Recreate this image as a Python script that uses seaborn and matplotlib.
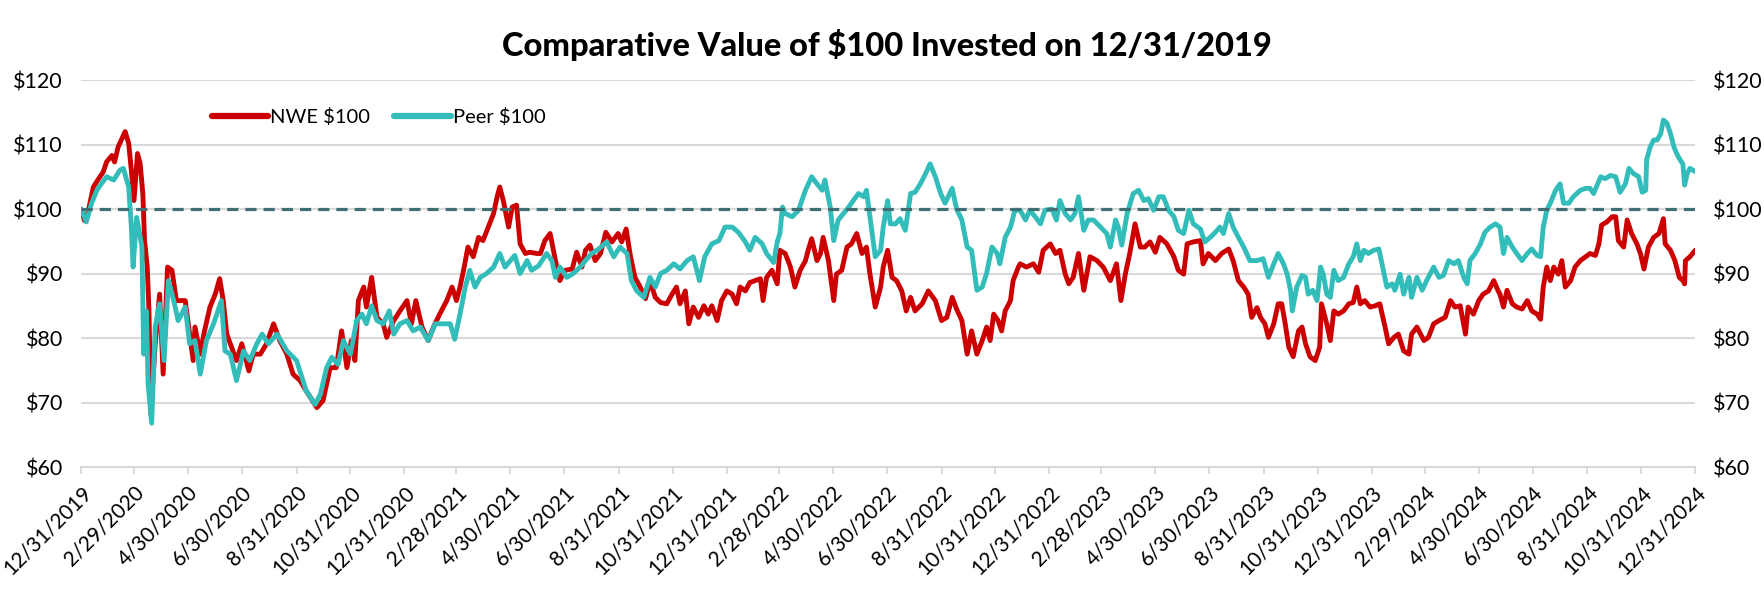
import pandas as pd
import matplotlib
matplotlib.use("Agg")
import matplotlib.pyplot as plt
import matplotlib.ticker as mticker
import seaborn as sns

start_date = "2019-12-31"

# days after 12/31/2019 and value of $100 invested
nwe_days = [0, 4, 8, 14, 20, 25, 29, 35, 38, 42, 50, 54, 57, 60, 64, 67, 70, 72, 75, 77,
            79, 84, 89, 93, 98, 103, 108, 118, 122, 127, 129, 135, 139, 146, 152, 157, 161, 165, 169, 176,
            182, 190, 195, 203, 210, 218, 225, 233, 240, 248, 255, 267, 274, 282, 289, 295, 301, 306, 310, 314,
            320, 323, 329, 335, 342, 346, 354, 361, 369, 374, 379, 386, 393, 399, 406, 414, 420, 425, 429, 433,
            438, 444, 450, 455, 461, 467, 471, 474, 478, 484, 488, 493, 497, 503, 508, 516, 520, 525, 531, 537,
            542, 548, 556, 561, 567, 571, 576, 582, 588, 594, 601, 608, 612, 617, 622, 627, 633, 639, 644, 650,
            656, 663, 669, 674, 678, 684, 688, 693, 699, 705, 710, 714, 720, 725, 731, 737, 742, 746, 752, 757,
            763, 769, 772, 776, 782, 788, 791, 797, 803, 808, 814, 820, 823, 827, 833, 837, 840, 846, 852, 855,
            861, 867, 872, 878, 884, 889, 893, 899, 905, 908, 913, 918, 923, 929, 934, 939, 944, 952, 959, 967,
            974, 980, 986, 991, 997, 1003, 1008, 1014, 1020, 1025, 1029, 1033, 1038, 1042, 1046, 1052, 1055, 1061, 1063, 1070,
            1078, 1084, 1089, 1097, 1103, 1108, 1114, 1118, 1123, 1129, 1135, 1142, 1150, 1157, 1165, 1172, 1177, 1182, 1187, 1193,
            1199, 1204, 1210, 1216, 1221, 1229, 1237, 1242, 1248, 1252, 1259, 1267, 1270, 1276, 1284, 1291, 1299, 1304, 1310, 1316,
            1321, 1325, 1331, 1335, 1340, 1344, 1350, 1355, 1359, 1363, 1367, 1372, 1378, 1382, 1386, 1391, 1397, 1402, 1404, 1410,
            1414, 1418, 1423, 1429, 1435, 1440, 1444, 1448, 1453, 1459, 1465, 1470, 1476, 1480, 1486, 1491, 1497, 1503, 1506, 1512,
            1520, 1525, 1531, 1537, 1544, 1550, 1555, 1561, 1567, 1570, 1576, 1582, 1587, 1593, 1599, 1604, 1606, 1610, 1614, 1620,
            1625, 1631, 1637, 1642, 1648, 1652, 1655, 1659, 1663, 1667, 1672, 1676, 1680, 1686, 1691, 1697, 1703, 1708, 1714, 1718,
            1721, 1727, 1733, 1737, 1740, 1746, 1750, 1755, 1761, 1765, 1769, 1774, 1780, 1786, 1791, 1793, 1799, 1804, 1809, 1813,
            1815, 1816, 1821, 1827]
nwe_vals = [100, 98.2, 99.5, 103.4, 104.7, 105.7, 107.3, 108.3, 107.3, 109.6, 112, 110.2, 106, 101.3, 108.6, 107, 102.4, 95.1, 91, 84.2,
            68.2, 79, 86.8, 74.4, 91, 90.5, 85.8, 85.8, 81.7, 76.5, 81.7, 77.5, 80.6, 84.8, 86.8, 89.2, 85.8, 80.6, 79.1, 76.5,
            79.1, 74.9, 77.5, 77.5, 79.1, 82.2, 79.6, 77.5, 74.4, 73.4, 71.8, 69.2, 70.3, 75.4, 75.4, 81.1, 75.4, 79.6, 76.5, 85.8,
            87.9, 84.8, 89.4, 83.2, 82.2, 80.1, 82.7, 84.2, 85.8, 82.2, 85.8, 81.7, 79.6, 81.7, 83.7, 85.8, 87.9, 85.8, 87.9, 90.5,
            94.1, 92.6, 95.6, 95.1, 97.2, 99.3, 101.9, 103.4, 101.3, 97.2, 100.3, 100.6, 94.6, 93.1, 93.3, 93.1, 93.1, 95.1, 96.2, 92,
            88.9, 90.5, 90.7, 93.3, 91, 93.6, 94.4, 92, 93.1, 96.4, 94.9, 96.2, 94.9, 96.9, 92.6, 89.4, 87.9, 86.1, 88.9, 86.3,
            85.5, 85.3, 86.8, 87.9, 85.3, 87.3, 82.2, 84.8, 83.2, 85, 83.7, 85, 82.7, 85.8, 87.3, 86.8, 85.3, 87.9, 87.3, 88.6,
            88.9, 89.2, 85.8, 89.4, 90.5, 88.4, 93.6, 93.1, 91, 87.9, 90.5, 92, 93.6, 95.4, 92, 93.1, 95.6, 92, 85.8, 89.9,
            90.5, 94.1, 94.6, 96.2, 93.1, 94.1, 89.9, 84.8, 87.9, 91, 93.6, 89.4, 88.9, 87.3, 84.2, 86.3, 84.2, 85.3, 87.3, 85.8,
            82.7, 83.2, 86.3, 84.5, 82.7, 77.5, 81.1, 77.5, 79.6, 81.7, 79.6, 83.7, 82.7, 81.1, 84.2, 85.8, 88.9, 91, 91.5, 91,
            91.5, 90.2, 93.6, 94.6, 93.1, 93.6, 89.9, 88.4, 89.4, 93.1, 87.4, 92.6, 92, 91, 88.9, 91.5, 85.8, 89.9, 93.1, 97.7,
            94.1, 94.1, 94.9, 93.3, 95.6, 94.6, 92.6, 90.5, 89.9, 94.6, 94.9, 95.1, 91.5, 93.1, 92, 93.1, 93.8, 92, 88.9, 87.9,
            86.8, 83.2, 84.7, 83.2, 82.2, 80.1, 82.2, 85.3, 85.3, 82.2, 78.6, 77.1, 81.1, 81.7, 79.1, 77.1, 76.5, 78.6, 85.3, 82.2,
            79.6, 84.2, 83.7, 84.2, 85.3, 85.5, 87.9, 85.3, 85.8, 84.8, 85, 85.3, 81.7, 79.1, 80.1, 80.6, 78, 77.5, 80.6, 81.7,
            79.6, 80.1, 82.2, 82.7, 83.2, 85.8, 84.8, 85, 80.6, 84.8, 83.7, 85.8, 86.8, 87.3, 88.9, 87.3, 86.8, 84.8, 87.4, 85.3,
            84.8, 84.5, 85.8, 84.2, 83.7, 82.9, 87.9, 91, 88.9, 91, 89.9, 92, 87.9, 88.9, 91, 92, 92.6, 93.1, 92.8, 94.6,
            97.5, 98, 98.8, 98.8, 95.1, 94.1, 98.3, 96.2, 94.6, 93.1, 90.7, 94.1, 95.6, 96.2, 98.5, 94.6, 93.6, 92, 89.4, 88.9,
            88.4, 92, 92.6, 93.6]

peer_days = [0, 6, 12, 18, 23, 29, 37, 44, 48, 54, 57, 59, 63, 69, 71, 74, 76, 80, 84, 89,
             94, 99, 105, 110, 118, 123, 129, 135, 142, 150, 159, 163, 169, 176, 184, 191, 199, 205, 212, 222,
             233, 244, 255, 265, 271, 278, 284, 291, 297, 305, 312, 318, 323, 329, 335, 342, 349, 354, 361, 369,
             376, 384, 393, 401, 410, 418, 423, 429, 435, 440, 446, 452, 459, 467, 474, 480, 486, 491, 497, 505,
             510, 518, 527, 533, 537, 542, 550, 557, 565, 571, 578, 586, 595, 603, 610, 618, 623, 629, 637, 644,
             650, 656, 663, 671, 678, 686, 693, 700, 706, 714, 722, 729, 737, 744, 752, 757, 763, 771, 776, 784,
             788, 791, 794, 797, 805, 812, 820, 827, 833, 839, 842, 848, 852, 857, 863, 869, 874, 880, 886, 889,
             893, 899, 905, 908, 913, 916, 922, 927, 933, 939, 944, 950, 956, 961, 967, 973, 978, 986, 991, 997,
             1003, 1008, 1014, 1020, 1025, 1031, 1037, 1040, 1046, 1052, 1057, 1063, 1069, 1074, 1080, 1086, 1091, 1099, 1104, 1108,
             1114, 1120, 1125, 1129, 1135, 1140, 1146, 1154, 1161, 1165, 1171, 1174, 1178, 1184, 1191, 1197, 1203, 1208, 1214, 1220,
             1225, 1231, 1237, 1242, 1248, 1254, 1259, 1267, 1272, 1278, 1284, 1289, 1293, 1299, 1304, 1310, 1316, 1323, 1331, 1338,
             1344, 1350, 1355, 1361, 1365, 1369, 1371, 1376, 1382, 1386, 1389, 1394, 1399, 1403, 1406, 1410, 1414, 1418, 1423, 1429,
             1435, 1440, 1444, 1448, 1452, 1457, 1463, 1469, 1474, 1478, 1484, 1487, 1493, 1497, 1503, 1506, 1512, 1518, 1523, 1531,
             1537, 1542, 1548, 1554, 1559, 1565, 1569, 1572, 1578, 1584, 1589, 1595, 1601, 1606, 1610, 1614, 1620, 1625, 1631, 1637,
             1642, 1648, 1652, 1655, 1659, 1663, 1669, 1674, 1678, 1684, 1689, 1697, 1703, 1708, 1712, 1720, 1725, 1731, 1737, 1742,
             1748, 1752, 1757, 1763, 1767, 1771, 1772, 1776, 1780, 1784, 1788, 1791, 1795, 1799, 1803, 1806, 1810, 1813, 1815, 1818,
             1821, 1827]
peer_vals = [100, 98, 100.9, 102.9, 103.9, 105, 104.5, 106, 106.3, 103.4, 97.2, 91, 98.7, 94.1, 77.5, 84.2, 72.8, 66.8, 81.7, 85.3,
             76.5, 88.9, 85.8, 82.7, 84.8, 79.1, 79.6, 74.4, 79.6, 82.2, 85.8, 78, 77.5, 73.4, 78, 76.5, 79.1, 80.6, 79.1, 80.6,
             78, 76.5, 71.8, 69.7, 71.3, 75.4, 77, 75.9, 79.6, 77.5, 82.7, 83.7, 82.2, 85, 82.7, 82.2, 84.2, 80.6, 82.2, 82.7,
             81.1, 81.7, 79.6, 82.2, 82.2, 82.2, 79.8, 83.7, 87.9, 90.5, 87.9, 89.4, 90, 91, 93.1, 91, 92, 92.8, 90, 92,
             90.5, 91.2, 93.1, 92, 89.4, 91, 89.4, 90, 91, 92, 93.1, 93.8, 94.9, 92.6, 94.1, 93.1, 88.9, 87.3, 86.3, 89.4,
             87.9, 90, 90.5, 91.5, 90.7, 92, 92.6, 88.9, 92.6, 94.6, 95.1, 97.2, 97.2, 96.4, 94.9, 93.6, 95.6, 94.6, 93.1, 91.7,
             94.9, 96.2, 100.3, 99.3, 98.8, 99.8, 102.9, 105, 103.9, 102.9, 104.5, 100.3, 95.1, 98.3, 99.3, 100.3, 101.3, 102.4, 101.9, 102.9,
             98.8, 92.6, 93.6, 97.2, 101.3, 97.7, 97.7, 98.5, 96.7, 102.4, 102.6, 103.9, 105.5, 107, 105, 102.4, 100.9, 103.2, 100, 98.3,
             94.1, 93.6, 87.4, 87.9, 90, 94.1, 93.1, 91.5, 95.6, 97.2, 99.8, 99.8, 98.3, 99.8, 98.8, 97.7, 99.8, 100, 98.3, 101.3,
             99.3, 98.3, 99.3, 101.9, 96.7, 98.3, 98.3, 97.2, 96.2, 94.1, 98.3, 97.2, 94.4, 99.3, 102.4, 102.9, 101.3, 101.6, 99.8, 101.9,
             101.9, 99.8, 98.8, 96.7, 96.2, 99.8, 97.7, 96.9, 94.9, 95.6, 96.4, 97.2, 96.2, 99.3, 97.2, 95.6, 94.1, 92, 92, 92.3,
             89.4, 91.5, 93.1, 91.5, 90, 87.4, 84.2, 87.9, 89.7, 89.4, 86.8, 87.4, 85.8, 91, 89.9, 86.8, 86.3, 90.5, 88.9, 89.4,
             91.5, 92.6, 94.6, 92, 93.6, 93.1, 93.6, 93.8, 90.5, 87.9, 88.4, 87.4, 89.9, 86.8, 89.4, 86.3, 89.4, 87.4, 88.9, 91,
             89.4, 89.7, 92, 91.5, 92, 89.4, 88.4, 92, 93.1, 94.6, 96.4, 97.2, 97.7, 97.2, 93.1, 95.6, 94.1, 93.1, 92, 93.1,
             93.8, 92.8, 92.6, 97.2, 99.8, 100.9, 102.9, 103.9, 100.9, 100.9, 101.9, 102.9, 103.2, 103.2, 102.4, 105, 104.7, 105.2, 105, 102.6,
             103.9, 106.3, 105.5, 105, 102.6, 102.9, 107.6, 109.6, 110.7, 110.7, 111.7, 113.8, 113.3, 111.7, 109.6, 108.6, 107.6, 107, 103.7, 105.5,
             106.3, 105.8]

series_names = ["NWE $100", "Peer $100"]
series_colors = ["#cc0000", "#33bdba"]
baseline = 100

tick_labels = ["12/31/2019", "2/29/2020", "4/30/2020", "6/30/2020", "8/31/2020", "10/31/2020",
               "12/31/2020", "2/28/2021", "4/30/2021", "6/30/2021", "8/31/2021", "10/31/2021",
               "12/31/2021", "2/28/2022", "4/30/2022", "6/30/2022", "8/31/2022", "10/31/2022",
               "12/31/2022", "2/28/2023", "4/30/2023", "6/30/2023", "8/31/2023", "10/31/2023",
               "12/31/2023", "2/29/2024", "4/30/2024", "6/30/2024", "8/31/2024", "10/31/2024",
               "12/31/2024"]
y_ticks = [60, 70, 80, 90, 100, 110, 120]

# ---------------------- DATA ----------------------
t0 = pd.Timestamp(start_date)
df = pd.concat([
    pd.DataFrame({"Date": t0 + pd.to_timedelta(nwe_days, unit="D"), "Value": nwe_vals, "Series": series_names[0]}),
    pd.DataFrame({"Date": t0 + pd.to_timedelta(peer_days, unit="D"), "Value": peer_vals, "Series": series_names[1]}),
])
tick_dates = pd.to_datetime(tick_labels, format="%m/%d/%Y")

# ---------------------- PLOT ----------------------
sns.set_style("white")
plt.rcParams["font.family"] = ["Lato", "DejaVu Sans"]
plt.rcParams["text.color"] = "black"
plt.rcParams["xtick.color"] = "black"
plt.rcParams["ytick.color"] = "black"

fig = plt.figure(figsize=(17.64, 5.94), dpi=100)
ax = fig.add_axes([0.0459, 0.2138, 0.9151, 0.6515])

ax.grid(axis="y", color="#d9d9d9", linewidth=1.5)
ax.set_axisbelow(True)
sns.lineplot(data=df, x="Date", y="Value", hue="Series", palette=series_colors,
             hue_order=series_names, estimator=None, linewidth=3.5, ax=ax, zorder=3)
ax.axhline(baseline, color="#3f6e73", linewidth=2.3, linestyle=(0, (3.5, 2.2)), zorder=4)

ax.set_xlim(tick_dates[0], tick_dates[-1])
ax.set_ylim(y_ticks[0], y_ticks[-1])
ax.set_yticks(y_ticks)
fmt = mticker.FuncFormatter(lambda v, p: f"${v:.0f}")
ax.yaxis.set_major_formatter(fmt)
ax.set_xticks(tick_dates)
ax.set_xticklabels(tick_labels, rotation=45, ha="right", rotation_mode="anchor")
ax.tick_params(axis="x", direction="out", length=5, width=1.5, color="#d9d9d9",
               labelcolor="black", labelsize=15, pad=6, bottom=True)
ax.tick_params(axis="y", length=0, labelsize=15.5, pad=13)
ax.set_xlabel("")
ax.set_ylabel("")
for s in ["top", "left", "right"]:
    ax.spines[s].set_visible(False)
ax.spines["bottom"].set_color("#d9d9d9")
ax.spines["bottom"].set_linewidth(1.5)

ax2 = ax.twinx()
ax2.set_ylim(y_ticks[0], y_ticks[-1])
ax2.set_yticks(y_ticks)
ax2.yaxis.set_major_formatter(fmt)
ax2.tick_params(axis="y", length=0, labelsize=15.5, pad=13)
for s in ax2.spines.values():
    s.set_visible(False)

leg = ax.legend(loc="center left", bbox_to_anchor=(0.081, 0.905), ncol=2, frameon=False,
                fontsize=14.5, handlelength=2.8, handletextpad=0.1, columnspacing=1.2,
                borderaxespad=0, borderpad=0)
for h in leg.get_lines():
    h.set_linewidth(4.5)

fig.text(0.503, 0.925, "Comparative Value of $100 Invested on 12/31/2019",
         ha="center", va="center", fontsize=23.5, fontweight="black")

plt.savefig("out.png", dpi=100)
